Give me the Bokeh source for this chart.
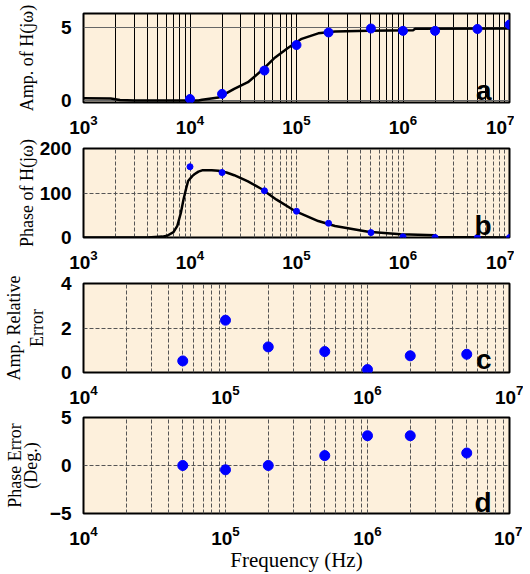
import math
from bokeh.plotting import figure
from bokeh.layouts import column
from bokeh.models import FixedTicker, Label
from bokeh.embed import file_html
from bokeh.resources import INLINE

# ---------------- data ----------------
meas_freq = [1e4, 2e4, 5e4, 1e5, 2e5, 5e5, 1e6, 2e6, 5e6, 1e7]
meas_amp = [0.1, 0.45, 2.05, 3.8, 4.66, 4.93, 4.77, 4.77, 4.9, 5.2]
meas_phase = [159, 146, 105, 59, 32, 11, 1.5, 0, 0, 0]

amp_curve_freq = [1000, 1800, 2200, 3000, 5000, 8000, 12000, 13000, 18500, 26000,
                  35000, 47000, 63000, 83000, 110000, 160000, 230000, 470000,
                  1250000, 1300000, 10000000]
amp_curve = [0.15, 0.14, 0.03, 0.0, 0.0, 0.0, 0.0, 0.05, 0.2, 0.8,
             1.25, 2.05, 2.95, 3.6, 4.2, 4.6, 4.73, 4.77,
             4.82, 4.92, 4.93]

phase_curve_freq = [1000, 4000, 5500, 6100, 7000, 7600, 8200, 8700, 9200, 9600,
                    10500, 11000, 12000, 13000, 16000, 18500, 22000, 26000, 35000,
                    47000, 65000, 96000, 160000, 230000, 470000, 950000, 2000000,
                    2050000, 10000000]
phase_curve = [0, 0, 2, 4, 12, 26, 55, 86, 110, 127,
               138, 142, 148, 151, 151, 150, 146, 140, 126,
               109, 85, 60, 37, 26, 13, 7.5, 5,
               1, 0]

err_freq = [5e4, 1e5, 2e5, 5e5, 1e6, 2e6, 5e6]
amp_rel_err = [0.52, 2.35, 1.15, 0.94, 0.13, 0.75, 0.82]
phase_err = [0.0, -0.45, 0.0, 1.03, 3.1, 3.1, 1.3]

x_major_a = [1e3, 1e4, 1e5, 1e6, 1e7]
x_major_c = [1e4, 1e5, 1e6, 1e7]

BG = "#fdf0dc"
PAGE_X = 8           # horizontal page offset of the canvas
FRAME_LEFT = 74      # canvas x of frame left edge
FRAME_W = 426


def minor_for(majors):
    m = []
    for d in majors[:-1]:
        for k in range(2, 10):
            m.append(d * k)
    return m


class Panel:
    def __init__(self, xr, yr, frame_top, frame_h, top, bottom,
                 yticks, xmajors, solid_grid, ylabel, label_standoff,
                 line_height=1.2):
        self.xr, self.yr, self.ft, self.fh = xr, yr, frame_top, frame_h
        p = figure(frame_width=FRAME_W, frame_height=frame_h, x_axis_type="log",
                   x_range=xr, y_range=yr, output_backend="svg",
                   toolbar_location=None, min_border_left=FRAME_LEFT,
                   min_border_right=14, min_border_top=top,
                   min_border_bottom=bottom)
        p.background_fill_color = BG
        p.border_fill_color = "white"
        p.outline_line_color = "black"
        p.outline_line_width = 2
        p.xaxis.ticker = FixedTicker(ticks=xmajors, minor_ticks=minor_for(xmajors))
        p.yaxis.ticker = FixedTicker(ticks=yticks)
        for ax in (p.xaxis, p.yaxis):
            ax.axis_line_color = None
            ax.major_tick_line_color = None
            ax.minor_tick_line_color = None
            ax.major_label_text_font = "Liberation Sans"
            ax.major_label_text_font_style = "bold"
            ax.major_label_text_font_size = "19px"
            ax.major_label_text_color = "black"
            ax.major_label_standoff = 6
        p.yaxis.axis_label = ylabel
        p.yaxis.axis_label_text_font = "Liberation Serif"
        p.yaxis.axis_label_text_font_style = "normal"
        p.yaxis.axis_label_text_font_size = "18px"
        p.yaxis.axis_label_text_color = "black"
        p.yaxis.axis_label_text_line_height = line_height
        p.yaxis.axis_label_standoff = label_standoff
        if solid_grid:
            p.xgrid.grid_line_color = "black"
            p.xgrid.grid_line_width = 1
            p.xgrid.minor_grid_line_color = "black"
            p.xgrid.minor_grid_line_width = 1
            p.ygrid.grid_line_color = "#666666"
            p.ygrid.grid_line_width = 1
        else:
            for g in (p.xgrid, p.ygrid):
                g.grid_line_color = "#555555"
                g.grid_line_dash = "4 2"
                g.grid_line_width = 1
            p.xgrid.minor_grid_line_color = "#555555"
            p.xgrid.minor_grid_line_dash = "4 2"
            p.xgrid.minor_grid_line_width = 1
        self.p = p

    def to_data(self, px, py):
        # px, py in page pixels
        l0, l1 = math.log10(self.xr[0]), math.log10(self.xr[1])
        x = 10 ** (l0 + (px - PAGE_X - FRAME_LEFT) / FRAME_W * (l1 - l0))
        y = self.yr[1] - (py - self.ft) / self.fh * (self.yr[1] - self.yr[0])
        return x, y

    def letter(self, px, py, t):
        x, y = self.to_data(px, py)
        self.p.add_layout(Label(x=x, y=y, text=t, text_font="Liberation Sans",
                                text_font_style="bold", text_font_size="28px",
                                text_align="right", text_baseline="alphabetic",
                                text_color="black"))


pa = Panel((1e3, 1e7), (-0.14, 5.96), 13, 89, 13, 36, [0, 5], x_major_a, True,
           "Amp. of H(jω)", 21)
pa.p.line(amp_curve_freq, amp_curve, line_color="black", line_width=2.5)
pa.p.scatter(meas_freq, meas_amp, size=9, color="blue")
pa.letter(490, 90, "a")

pb = Panel((1e3, 1e7), (0, 200), 148, 89, 10, 36, [0, 100, 200], x_major_a, False,
           "Phase of H(jω)", 0)
pb.p.line(phase_curve_freq, phase_curve, line_color="black", line_width=2.5)
pb.p.scatter(meas_freq, meas_phase, size=6, color="blue")
pb.letter(490, 225, "b")

pc = Panel((1e4, 1e7), (0, 4), 283, 89, 10, 36, [0, 2, 4], x_major_c, False,
           "Amp. Relative\nError", 11, line_height=1.15)
pc.p.scatter(err_freq, amp_rel_err, size=10, color="blue")
pc.letter(490, 359, "c")

pd = Panel((1e4, 1e7), (-5, 5), 417, 96, 9, 57, [-5, 0, 5], x_major_c, False,
           "Phase Error\n(Deg.)", 6, line_height=0.8)
pd.p.scatter(err_freq, phase_err, size=10, color="blue")
pd.letter(490, 502, "d")
pd.p.xaxis.axis_label = "Frequency (Hz)"
pd.p.xaxis.axis_label_text_font = "Liberation Serif"
pd.p.xaxis.axis_label_text_font_style = "normal"
pd.p.xaxis.axis_label_text_font_size = "21px"
pd.p.xaxis.axis_label_text_color = "black"
pd.p.xaxis.major_label_standoff = 6
pd.p.xaxis.axis_label_standoff = 0

layout = column(pa.p, pb.p, pc.p, pd.p, spacing=0)
open("out.html", "w").write(file_html(layout, INLINE))
